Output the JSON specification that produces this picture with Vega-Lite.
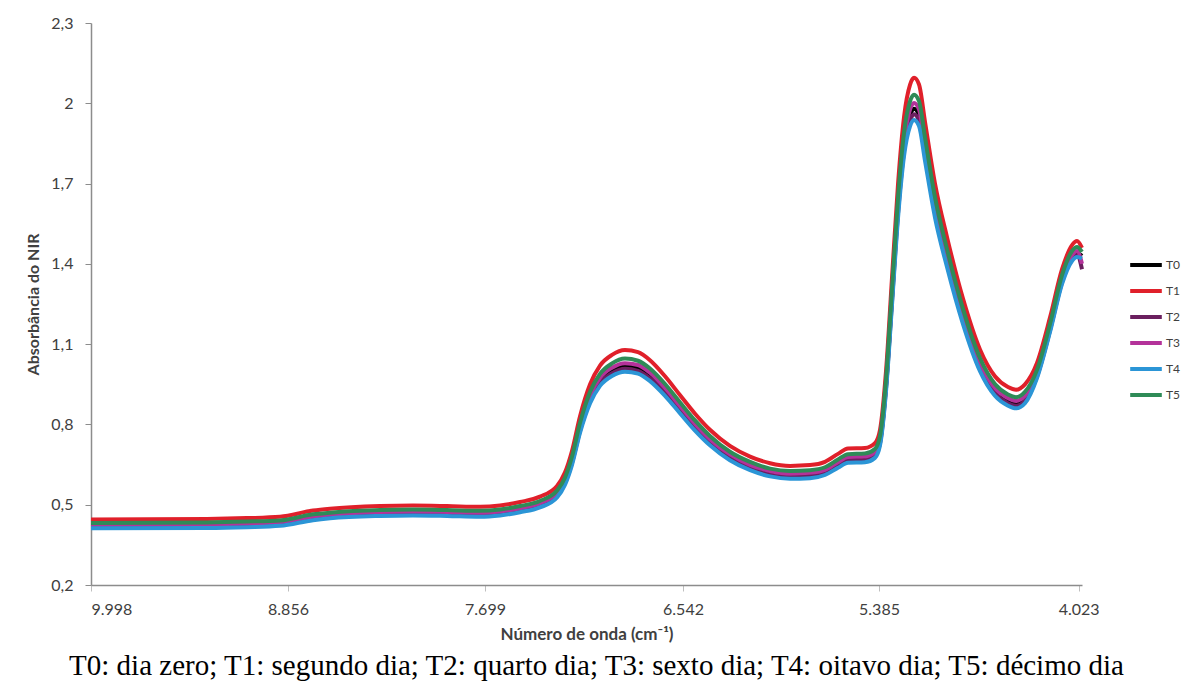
{
  "$schema": "https://vega.github.io/schema/vega-lite/v6.json",
  "width": 991,
  "height": 562,
  "autosize": "none",
  "padding": {"left": 91, "top": 23, "right": 100, "bottom": 108},
  "background": "white",
  "config": {"view": {"stroke": null}},
  "title": {
    "text": "T0: dia zero; T1: segundo dia; T2: quarto dia; T3: sexto dia; T4: oitavo dia; T5: décimo dia",
    "orient": "bottom",
    "anchor": "middle",
    "font": "Liberation Serif",
    "fontSize": 29,
    "fontWeight": "normal",
    "color": "#000000",
    "offset": 10,
    "dx": 10
  },
  "data": {
    "values": [
      {"w": 9998, "T1": 0.445, "T5": 0.432, "T3": 0.425, "T0": 0.421, "T2": 0.416, "T4": 0.412},
      {"w": 9326, "T1": 0.447, "T5": 0.434, "T3": 0.427, "T0": 0.422, "T2": 0.418, "T4": 0.413},
      {"w": 9094, "T1": 0.450, "T5": 0.437, "T3": 0.430, "T0": 0.425, "T2": 0.421, "T4": 0.416},
      {"w": 8902, "T1": 0.455, "T5": 0.441, "T3": 0.435, "T0": 0.430, "T2": 0.425, "T4": 0.421},
      {"w": 8709, "T1": 0.478, "T5": 0.464, "T3": 0.456, "T0": 0.452, "T2": 0.447, "T4": 0.442},
      {"w": 8609, "T1": 0.485, "T5": 0.470, "T3": 0.463, "T0": 0.458, "T2": 0.453, "T4": 0.449},
      {"w": 8316, "T1": 0.495, "T5": 0.480, "T3": 0.473, "T0": 0.468, "T2": 0.463, "T4": 0.458},
      {"w": 8122, "T1": 0.497, "T5": 0.482, "T3": 0.475, "T0": 0.470, "T2": 0.465, "T4": 0.460},
      {"w": 7922, "T1": 0.495, "T5": 0.480, "T3": 0.473, "T0": 0.468, "T2": 0.463, "T4": 0.458},
      {"w": 7728, "T1": 0.492, "T5": 0.477, "T3": 0.470, "T0": 0.465, "T2": 0.460, "T4": 0.455},
      {"w": 7611, "T1": 0.497, "T5": 0.482, "T3": 0.475, "T0": 0.470, "T2": 0.465, "T4": 0.460},
      {"w": 7494, "T1": 0.510, "T5": 0.495, "T3": 0.487, "T0": 0.482, "T2": 0.477, "T4": 0.472},
      {"w": 7378, "T1": 0.530, "T5": 0.514, "T3": 0.506, "T0": 0.501, "T2": 0.496, "T4": 0.490},
      {"w": 7278, "T1": 0.570, "T5": 0.553, "T3": 0.544, "T0": 0.539, "T2": 0.533, "T4": 0.527},
      {"w": 7232, "T1": 0.620, "T5": 0.601, "T3": 0.592, "T0": 0.586, "T2": 0.580, "T4": 0.574},
      {"w": 7191, "T1": 0.700, "T5": 0.679, "T3": 0.669, "T0": 0.662, "T2": 0.655, "T4": 0.648},
      {"w": 7144, "T1": 0.830, "T5": 0.805, "T3": 0.793, "T0": 0.784, "T2": 0.776, "T4": 0.768},
      {"w": 7085, "T1": 0.950, "T5": 0.922, "T3": 0.907, "T0": 0.898, "T2": 0.888, "T4": 0.879},
      {"w": 7027, "T1": 1.020, "T5": 0.989, "T3": 0.974, "T0": 0.964, "T2": 0.954, "T4": 0.944},
      {"w": 6957, "T1": 1.060, "T5": 1.028, "T3": 1.012, "T0": 1.002, "T2": 0.991, "T4": 0.981},
      {"w": 6881, "T1": 1.078, "T5": 1.046, "T3": 1.029, "T0": 1.019, "T2": 1.008, "T4": 0.997},
      {"w": 6805, "T1": 1.070, "T5": 1.038, "T3": 1.022, "T0": 1.011, "T2": 1.000, "T4": 0.990},
      {"w": 6735, "T1": 1.040, "T5": 1.009, "T3": 0.993, "T0": 0.983, "T2": 0.972, "T4": 0.962},
      {"w": 6647, "T1": 0.980, "T5": 0.951, "T3": 0.936, "T0": 0.926, "T2": 0.916, "T4": 0.907},
      {"w": 6560, "T1": 0.910, "T5": 0.883, "T3": 0.869, "T0": 0.860, "T2": 0.851, "T4": 0.842},
      {"w": 6471, "T1": 0.840, "T5": 0.815, "T3": 0.802, "T0": 0.794, "T2": 0.785, "T4": 0.777},
      {"w": 6383, "T1": 0.780, "T5": 0.757, "T3": 0.745, "T0": 0.737, "T2": 0.729, "T4": 0.722},
      {"w": 6265, "T1": 0.720, "T5": 0.698, "T3": 0.688, "T0": 0.680, "T2": 0.673, "T4": 0.666},
      {"w": 6146, "T1": 0.680, "T5": 0.660, "T3": 0.649, "T0": 0.643, "T2": 0.636, "T4": 0.629},
      {"w": 6028, "T1": 0.655, "T5": 0.635, "T3": 0.626, "T0": 0.619, "T2": 0.612, "T4": 0.606},
      {"w": 5910, "T1": 0.645, "T5": 0.626, "T3": 0.616, "T0": 0.610, "T2": 0.603, "T4": 0.597},
      {"w": 5792, "T1": 0.648, "T5": 0.629, "T3": 0.619, "T0": 0.612, "T2": 0.606, "T4": 0.599},
      {"w": 5704, "T1": 0.660, "T5": 0.640, "T3": 0.630, "T0": 0.624, "T2": 0.617, "T4": 0.611},
      {"w": 5627, "T1": 0.690, "T5": 0.669, "T3": 0.659, "T0": 0.652, "T2": 0.645, "T4": 0.638},
      {"w": 5568, "T1": 0.710, "T5": 0.689, "T3": 0.678, "T0": 0.671, "T2": 0.664, "T4": 0.657},
      {"w": 5468, "T1": 0.712, "T5": 0.691, "T3": 0.680, "T0": 0.673, "T2": 0.666, "T4": 0.659},
      {"w": 5409, "T1": 0.730, "T5": 0.708, "T3": 0.697, "T0": 0.690, "T2": 0.683, "T4": 0.675},
      {"w": 5378, "T1": 0.780, "T5": 0.757, "T3": 0.745, "T0": 0.737, "T2": 0.729, "T4": 0.722},
      {"w": 5337, "T1": 1.000, "T5": 0.970, "T3": 0.955, "T0": 0.945, "T2": 0.935, "T4": 0.925},
      {"w": 5296, "T1": 1.350, "T5": 1.310, "T3": 1.289, "T0": 1.276, "T2": 1.262, "T4": 1.249},
      {"w": 5255, "T1": 1.700, "T5": 1.649, "T3": 1.624, "T0": 1.607, "T2": 1.590, "T4": 1.573},
      {"w": 5214, "T1": 1.950, "T5": 1.892, "T3": 1.862, "T0": 1.843, "T2": 1.823, "T4": 1.804},
      {"w": 5173, "T1": 2.070, "T5": 2.008, "T3": 1.977, "T0": 1.956, "T2": 1.935, "T4": 1.915},
      {"w": 5146, "T1": 2.095, "T5": 2.032, "T3": 2.001, "T0": 1.980, "T2": 1.959, "T4": 1.938},
      {"w": 5112, "T1": 2.070, "T5": 2.008, "T3": 1.977, "T0": 1.956, "T2": 1.935, "T4": 1.915},
      {"w": 5071, "T1": 1.930, "T5": 1.872, "T3": 1.843, "T0": 1.824, "T2": 1.805, "T4": 1.785},
      {"w": 5003, "T1": 1.700, "T5": 1.649, "T3": 1.624, "T0": 1.607, "T2": 1.590, "T4": 1.573},
      {"w": 4921, "T1": 1.500, "T5": 1.455, "T3": 1.433, "T0": 1.418, "T2": 1.403, "T4": 1.388},
      {"w": 4812, "T1": 1.270, "T5": 1.232, "T3": 1.213, "T0": 1.200, "T2": 1.187, "T4": 1.175},
      {"w": 4696, "T1": 1.080, "T5": 1.048, "T3": 1.031, "T0": 1.021, "T2": 1.010, "T4": 0.999},
      {"w": 4594, "T1": 0.980, "T5": 0.951, "T3": 0.936, "T0": 0.926, "T2": 0.916, "T4": 0.907},
      {"w": 4505, "T1": 0.940, "T5": 0.912, "T3": 0.898, "T0": 0.888, "T2": 0.879, "T4": 0.870},
      {"w": 4450, "T1": 0.930, "T5": 0.902, "T3": 0.888, "T0": 0.879, "T2": 0.870, "T4": 0.860},
      {"w": 4389, "T1": 0.950, "T5": 0.922, "T3": 0.907, "T0": 0.898, "T2": 0.888, "T4": 0.879},
      {"w": 4307, "T1": 1.030, "T5": 1.004, "T3": 0.994, "T0": 0.987, "T2": 0.979, "T4": 0.973},
      {"w": 4218, "T1": 1.200, "T5": 1.176, "T3": 1.164, "T0": 1.158, "T2": 1.152, "T4": 1.146},
      {"w": 4136, "T1": 1.380, "T5": 1.359, "T3": 1.346, "T0": 1.339, "T2": 1.332, "T4": 1.325},
      {"w": 4068, "T1": 1.470, "T5": 1.448, "T3": 1.433, "T0": 1.426, "T2": 1.419, "T4": 1.411},
      {"w": 4034, "T1": 1.485, "T5": 1.463, "T3": 1.448, "T0": 1.440, "T2": 1.433, "T4": 1.426},
      {"w": 4000, "T1": 1.460, "T5": 1.445, "T3": 1.400, "T0": 1.430, "T2": 1.380, "T4": 1.420}
    ]
  },
  "transform": [
    {"fold": ["T0", "T1", "T2", "T3", "T4", "T5"], "as": ["serie", "abs"]}
  ],
  "mark": {"type": "line", "strokeWidth": 4, "interpolate": "monotone"},
  "encoding": {
    "x": {
      "field": "w",
      "type": "quantitative",
      "scale": {
        "type": "linear",
        "domain": [9998, 8856, 7699, 6542, 5385, 4000],
        "range": [0, 197, 394, 592, 788, 991],
        "zero": false,
        "nice": false
      },
      "axis": {
        "title": "Número de onda (cm⁻¹)",
        "titleFont": "Lato",
        "titleFontSize": 17,
        "titleFontWeight": "bold",
        "titleColor": "#404040",
        "titlePadding": 9,
        "values": [9998, 8856, 7699, 6542, 5385, 4023],
        "labelExpr": "replace(format(datum.value, ','), ',', '.')",
        "labelFont": "Lato",
        "labelFontSize": 16,
        "labelColor": "#404040",
        "labelPadding": 10,
        "domainColor": "#8c8c8c",
        "domainWidth": 1.5,
        "tickColor": "#bfbfbf",
        "tickSize": 6,
        "grid": false
      }
    },
    "y": {
      "field": "abs",
      "type": "quantitative",
      "scale": {"domain": [0.2, 2.3], "zero": false, "nice": false},
      "axis": {
        "title": "Absorbância do NIR",
        "titleFont": "Lato",
        "titleFontSize": 16,
        "titleFontWeight": "bold",
        "titleColor": "#404040",
        "titlePadding": 9,
        "values": [0.2, 0.5, 0.8, 1.1, 1.4, 1.7, 2.0, 2.3],
        "labelExpr": "replace(format(datum.value, '.1~f'), '.', ',')",
        "labelFont": "Lato",
        "labelFontSize": 16,
        "labelColor": "#404040",
        "labelPadding": 12,
        "domainColor": "#8c8c8c",
        "domainWidth": 1.5,
        "tickColor": "#8c8c8c",
        "tickSize": 6,
        "grid": false
      }
    },
    "color": {
      "field": "serie",
      "type": "nominal",
      "scale": {
        "domain": ["T0", "T1", "T2", "T3", "T4", "T5"],
        "range": ["#000000", "#e0202a", "#6b1f5f", "#b4329a", "#2b95d6", "#2e8b57"]
      },
      "legend": {
        "title": null,
        "orient": "none",
        "legendX": 1037,
        "legendY": 224,
        "symbolType": "stroke",
        "symbolSize": 1000,
        "symbolStrokeWidth": 4,
        "rowPadding": 0,
        "labelFont": "Lato",
        "labelFontSize": 12,
        "labelColor": "#404040",
        "labelOffset": 2
      }
    }
  }
}
